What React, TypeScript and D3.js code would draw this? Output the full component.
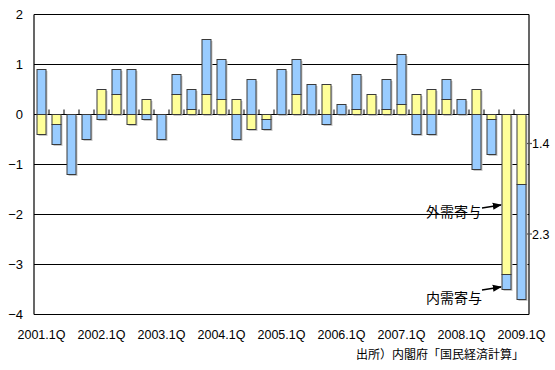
import React from "react";
import * as d3 from "d3";

const quarters = [
  "2001.1Q","2001.2Q","2001.3Q","2001.4Q",
  "2002.1Q","2002.2Q","2002.3Q","2002.4Q",
  "2003.1Q","2003.2Q","2003.3Q","2003.4Q",
  "2004.1Q","2004.2Q","2004.3Q","2004.4Q",
  "2005.1Q","2005.2Q","2005.3Q","2005.4Q",
  "2006.1Q","2006.2Q","2006.3Q","2006.4Q",
  "2007.1Q","2007.2Q","2007.3Q","2007.4Q",
  "2008.1Q","2008.2Q","2008.3Q","2008.4Q",
  "2009.1Q",
];
const domestic = [0.9, -0.4, -1.2, -0.5, -0.1, 0.5, 0.9, -0.1, -0.5, 0.4, 0.4, 1.1, 0.8, -0.5, 0.7, -0.2, 0.9, 0.7, 0.6, -0.2, 0.2, 0.7, 0, 0.6, 1.0, -0.4, -0.4, 0.4, 0.3, -1.1, -0.7, -0.3, -2.3];
const external = [-0.4, -0.2, 0, 0, 0.5, 0.4, -0.2, 0.3, 0, 0.4, 0.1, 0.4, 0.3, 0.3, -0.3, -0.1, 0, 0.4, 0, 0.6, 0, 0.1, 0.4, 0.1, 0.2, 0.4, 0.5, 0.3, 0, 0.5, -0.1, -3.2, -1.4];
const xTickLabels = ["2001.1Q","2002.1Q","2003.1Q","2004.1Q","2005.1Q","2006.1Q","2007.1Q","2008.1Q","2009.1Q"];
const yTicks = [2, 1, 0, -1, -2, -3, -4];
const lastLabels = ["-1.4", "-2.3"];
const annotations = ["外需寄与", "内需寄与"];
const sourceText = "出所）内閣府「国民経済計算」";

const W = 555, H = 370;
const L = 34, R = 529, T = 14.5, B = 314.5;
const FONT = "'Liberation Sans', Arial, sans-serif";
const CJK = "'Noto Sans CJK JP', sans-serif";

export default function App() {
  const x = d3.scaleBand<number>().domain(d3.range(quarters.length)).range([L, R]).paddingInner(0.4).paddingOuter(0.2);
  const y = d3.scaleLinear().domain([-4, 2]).range([B, T]);
  const rows = quarters.map((q, i) => ({ q, ext: external[i], dom: domestic[i] }));
  const stack = d3.stack<any>().keys(["ext", "dom"]).offset(d3.stackOffsetDiverging);
  const series = stack(rows);
  const colors: Record<string, string> = { ext: "#ffff99", dom: "#99ccff" };
  const bw = x.bandwidth();
  const step = x.step();

  const extents = rows.map((r, i) => {
    const vals = series.flatMap((s) => [s[i][0], s[i][1]]);
    return [d3.min(vals) as number, d3.max(vals) as number];
  });

  const n = quarters.length;
  const lastX = (x(n - 1) as number) + bw;
  const iq4 = quarters.indexOf("2008.4Q");
  const q4x = x(iq4) as number;
  const yl1 = y(external[n - 1] / 2) - 6;
  const yl2 = y(external[n - 1] + domestic[n - 1] / 2) - 8;

  return (
    <svg width={W} height={H} style={{ display: "block", position: "absolute", left: 0, top: 0 }}>
      <defs>
        <marker id="arr" viewBox="0 0 10 10" refX="9" refY="5" markerWidth="7" markerHeight="7" orient="auto">
          <path d="M0,1 L10,5 L0,9 z" fill="#000" />
        </marker>
      </defs>
      <rect x={0} y={0} width={W} height={H} fill="#fff" />
      {yTicks.map((t) => (
        <line key={t} x1={L} x2={R} y1={y(t)} y2={y(t)} stroke="#000" strokeWidth={1.2} />
      ))}
      <line x1={L} x2={L} y1={T} y2={B} stroke="#000" strokeWidth={1.2} />
      <line x1={R} x2={R} y1={T} y2={B} stroke="#000" strokeWidth={1.2} />
      {d3.range(1, n).map((k) => (
        <line key={k} x1={L + k * step} x2={L + k * step} y1={y(0) - 5} y2={y(0)} stroke="#000" strokeWidth={1} />
      ))}
      {extents.map((e, i) => (
        e[1] - e[0] > 0 ? (
          <rect key={"s" + i} x={(x(i) as number) + 1.5} y={y(e[1]) + 1.5} width={bw} height={y(e[0]) - y(e[1])} fill="#c8c8c8" />
        ) : null
      ))}
      {series.map((s) => (
        <g key={s.key}>
          {s.map((d, i) => {
            const h = Math.abs(y(d[0]) - y(d[1]));
            if (h < 0.01) return null;
            return (
              <rect key={i} x={x(i)} y={Math.min(y(d[0]), y(d[1]))} width={bw} height={h}
                fill={colors[s.key as string]} stroke="#3a3a3a" strokeWidth={1} />
            );
          })}
        </g>
      ))}
      {yTicks.map((t) => (
        <text key={t} x={23} y={y(t) + 4.5} textAnchor="end" fontFamily={FONT} fontSize={13} fill="#000">
          {t < 0 ? "−" + Math.abs(t) : String(t)}
        </text>
      ))}
      {xTickLabels.map((lab) => {
        const i = quarters.indexOf(lab);
        return (
          <text key={lab} x={(x(i) as number) + bw / 2} y={339} textAnchor="middle" fontFamily={FONT} fontSize={12.5} fill="#000">
            {lab}
          </text>
        );
      })}
      <line x1={lastX + 1} x2={lastX + 6} y1={yl1} y2={yl1} stroke="#555" strokeWidth={1.2} />
      <text x={lastX + 6} y={yl1 + 4.5} fontFamily={FONT} fontSize={12.5} fill="#000">{lastLabels[0].slice(1)}</text>
      <line x1={lastX + 1} x2={lastX + 6} y1={yl2} y2={yl2} stroke="#555" strokeWidth={1.2} />
      <text x={lastX + 6} y={yl2 + 4.5} fontFamily={FONT} fontSize={12.5} fill="#000">{lastLabels[1].slice(1)}</text>
      <text x={426} y={217} fontFamily={CJK} fontSize={14} fill="#000">{annotations[0]}</text>
      <line x1={482} y1={208} x2={q4x - 1} y2={205} stroke="#000" strokeWidth={1.3} markerEnd="url(#arr)" />
      <text x={426} y={303} fontFamily={CJK} fontSize={14} fill="#000">{annotations[1]}</text>
      <line x1={482} y1={290} x2={q4x - 1} y2={287} stroke="#000" strokeWidth={1.3} markerEnd="url(#arr)" />
      <text x={524} y={359} textAnchor="end" fontFamily={CJK} fontSize={12} fill="#000">{sourceText}</text>
    </svg>
  );
}
